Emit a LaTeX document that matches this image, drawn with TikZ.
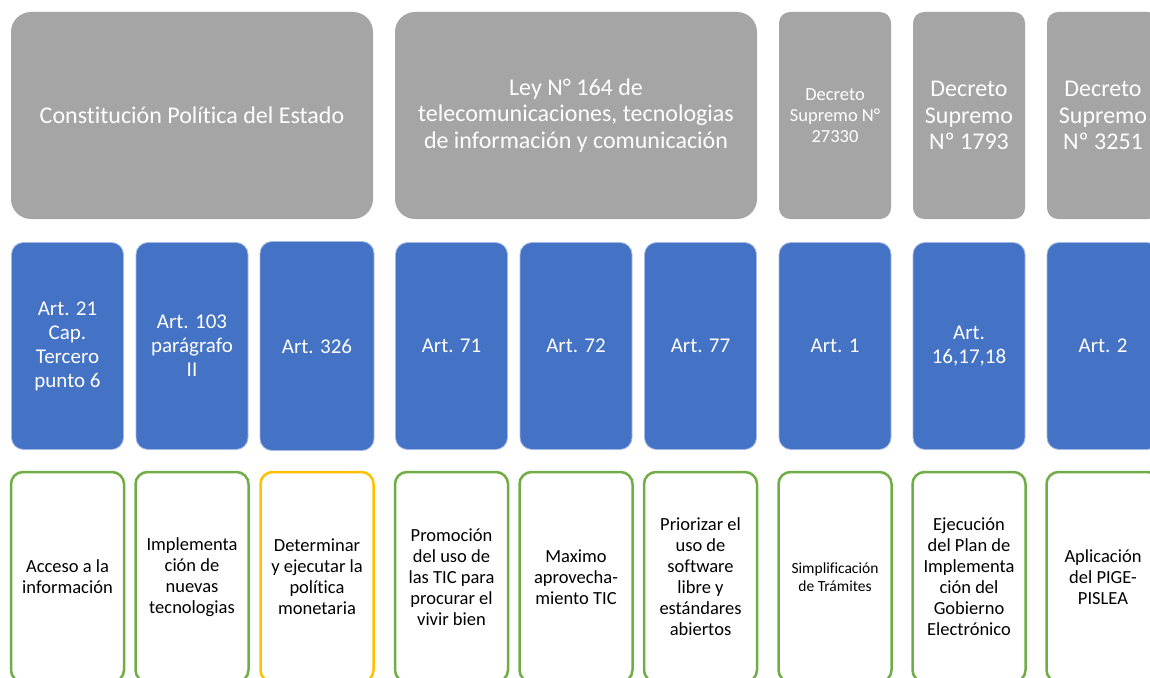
\documentclass[tikz,border=0pt]{standalone}
\usepackage{fontspec}
\setmainfont{Carlito}[Ligatures={NoCommon}]
\definecolor{lawgray}{HTML}{A5A5A5}
\definecolor{artblue}{HTML}{4472C4}
\definecolor{artedge}{HTML}{A3B8E2}
\definecolor{aimgreen}{HTML}{70AD47}
\definecolor{aimgold}{HTML}{FFC000}
\tikzset{
  lawbox/.style={rectangle, rounded corners=#1, fill=lawgray, text=white,
    align=center, inner sep=0pt},
  artbox/.style={rectangle, rounded corners=12pt, fill=artblue, draw=artedge,
    line width=0.8pt, text=white, align=center, inner sep=0pt,
    minimum width=112pt, minimum height=207pt,
    font=\fontsize{21}{24}\selectfont},
  aimbox/.style={rectangle, rounded corners=12pt, fill=white, draw=aimgreen,
    line width=2.5pt, text=black, align=center, inner sep=0pt,
    minimum width=113pt, minimum height=210pt,
    font=\fontsize{18.5}{21}\selectfont},
  big/.style={font=\fontsize{24}{26.7}\selectfont},
  small/.style={font=\fontsize{18.5}{21}\selectfont},
}
\begin{document}
\begin{tikzpicture}[x=1pt,y=-1pt]
\useasboundingbox (0,0) rectangle (1150,677);
\clip (0,0) rectangle (1150,677);

% top row: legal instruments
\node[lawbox=20pt, big, minimum width=362pt, minimum height=207pt] (cpe) at (192,115.5)
  {Constitución Política del Estado};
\node[lawbox=20pt, big, minimum width=362pt, minimum height=207pt] (ley) at (576,115.5)
  {Ley N° 164 de\\telecomunicaciones, tecnologias\\de información y comunicación};
\node[lawbox=11pt, small, minimum width=112pt, minimum height=207pt] (ds1) at (835,115.5)
  {Decreto\\Supremo N°\\27330};
\node[lawbox=11pt, big, minimum width=112pt, minimum height=207pt] (ds2) at (969,115.5)
  {Decreto\\Supremo\\Nº 1793};
\node[lawbox=11pt, big, minimum width=112pt, minimum height=207pt] (ds3) at (1103,115.5)
  {Decreto\\Supremo\\Nº 3251};

% middle row: articles
\node[artbox] (a1) at (67.5,346) {Art. 21\\Cap.\\Tercero\\punto 6};
\node[artbox] (a2) at (192,346) {Art. 103\\parágrafo\\II};
\node[artbox, minimum width=114pt, minimum height=209pt] (a3) at (317,346) {Art. 326};
\node[artbox] (a4) at (451.5,346) {Art. 71};
\node[artbox] (a5) at (576,346) {Art. 72};
\node[artbox] (a6) at (700.5,346) {Art. 77};
\node[artbox] (a7) at (835,346) {Art. 1};
\node[artbox] (a8) at (969,346) {Art.\\16,17,18};
\node[artbox] (a9) at (1103,346) {Art. 2};

% bottom row: purposes
\node[aimbox] (p1) at (67.5,577) {Acceso a la\\información};
\node[aimbox] (p2) at (192,577) {Implementa\\ción de\\nuevas\\tecnologias};
\node[aimbox, draw=aimgold] (p3) at (317,577) {Determinar\\y ejecutar la\\política\\monetaria};
\node[aimbox] (p4) at (451.5,577) {Promoción\\del uso de\\las TIC para\\procurar el\\vivir bien};
\node[aimbox] (p5) at (576,577) {Maximo\\aprovecha-\\miento TIC};
\node[aimbox] (p6) at (700.5,577) {Priorizar el\\uso de\\software\\libre y\\estándares\\abiertos};
\node[aimbox, font=\fontsize{15.5}{18.5}\selectfont] (p7) at (835,577) {Simplificación\\de Trámites};
\node[aimbox] (p8) at (969,577) {Ejecución\\del Plan de\\Implementa\\ción del\\Gobierno\\Electrónico};
\node[aimbox] (p9) at (1103,577) {Aplicación\\del PIGE-\\PISLEA};
\end{tikzpicture}
\end{document}
